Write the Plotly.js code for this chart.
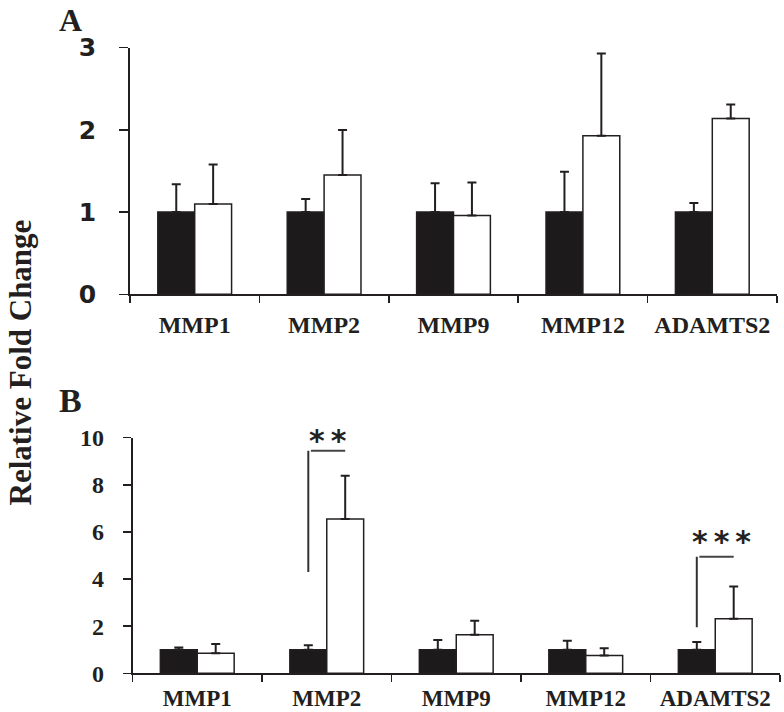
<!DOCTYPE html>
<html><head><meta charset="utf-8">
<script src="https://cdn.plot.ly/plotly-3.0.1.min.js"></script>
<style>html,body{margin:0;padding:0;background:#fff}#chart{width:784px;height:712px}</style>
</head><body><div id="chart"></div>
<script>
const genes = ['MMP1','MMP2','MMP9','MMP12','ADAMTS2'];
const aControl = [1,1,1,1,1];
const aControlErr = [0.34,0.16,0.35,0.49,0.11];
const aTreated = [1.10,1.45,0.96,1.93,2.14];
const aTreatedErr = [0.48,0.55,0.40,1.00,0.17];
const bControl = [1,1,1,1,1];
const bControlErr = [0.10,0.19,0.41,0.38,0.33];
const bTreated = [0.85,6.55,1.64,0.76,2.32];
const bTreatedErr = [0.39,1.84,0.59,0.30,1.36];
const yTicksA = [0,1,2,3];
const yTicksB = [0,2,4,6,8,10];
const sigGenes = ['MMP2','ADAMTS2'];
const sigLabels = ['*\u2009*','*\u2009*\u2009*'];
const sigLow = [4.3,1.95];
const sigHigh = [9.45,4.95];

const W = 784, H = 712;
const bargap = 0.43;
const half = (1 - bargap) / 4;
const ink = '#231f20';
const zeros = genes.map(() => 0);
const sigYShift = [-9, -4];
const sigXShift = [1, 6];

function barTrace(y, err, fill, xa, ya) {
  return {
    type: 'bar', x: genes, y: y, xaxis: xa, yaxis: ya, showlegend: false,
    marker: {color: fill, line: {color: ink, width: 1.5}},
    error_y: {type: 'data', symmetric: false, array: err, arrayminus: zeros,
              color: ink, thickness: 2, width: 4.5},
    hoverinfo: 'skip'
  };
}

const data = [
  barTrace(aControl, aControlErr, '#1c1a1b', 'x', 'y'),
  barTrace(aTreated, aTreatedErr, '#ffffff', 'x', 'y'),
  barTrace(bControl, bControlErr, '#1c1a1b', 'x2', 'y2'),
  barTrace(bTreated, bTreatedErr, '#ffffff', 'x2', 'y2')
];

const serifBold = {family: 'Liberation Serif, Times New Roman, serif', color: ink, weight: 'bold'};

function xAxis(domain, anchor, size, standoff) {
  return {
    domain: domain, anchor: anchor, type: 'category', range: [-0.5, 4.5],
    showline: true, linecolor: ink, linewidth: 1.8, showgrid: false, zeroline: false,
    ticks: 'outside', tickson: 'boundaries', ticklen: 7, tickwidth: 1.5, tickcolor: ink,
    tickfont: Object.assign({}, serifBold, {size: size}), ticklabelstandoff: standoff, fixedrange: true
  };
}

const layout = {
  width: W, height: H,
  margin: {l: 0, r: 0, t: 0, b: 0},
  paper_bgcolor: '#fff', plot_bgcolor: 'rgba(0,0,0,0)',
  barmode: 'group', bargap: bargap, bargroupgap: 0,
  xaxis: xAxis([130/W, 777/W], 'y', 24, 8),
  xaxis2: xAxis([132.5/W, 780/W], 'y2', 23, 3),
  yaxis: {
    domain: [1 - 294.3/H, 1 - 47.7/H], anchor: 'x', range: [0, 3],
    tickvals: yTicksA, ticktext: yTicksA.map(String),
    showline: true, linecolor: ink, linewidth: 1.8, showgrid: false, zeroline: false,
    ticks: 'outside', ticklen: 9, tickwidth: 1.5, tickcolor: ink,
    tickfont: {family: 'DejaVu Sans, sans-serif', size: 25, weight: 'bold', color: ink},
    ticklabelstandoff: 18, fixedrange: true
  },
  yaxis2: {
    domain: [1 - 673.3/H, 1 - 437.7/H], anchor: 'x2', range: [0, 10],
    tickvals: yTicksB, ticktext: yTicksB.map(String),
    showline: true, linecolor: ink, linewidth: 1.8, showgrid: false, zeroline: false,
    ticks: 'outside', ticklen: 8, tickwidth: 1.5, tickcolor: ink,
    tickfont: Object.assign({}, serifBold, {size: 24}),
    ticklabelstandoff: 14, fixedrange: true
  },
  shapes: [],
  annotations: [
    {text: 'A', xref: 'paper', yref: 'paper', x: 70/W, y: 1, showarrow: false,
     xanchor: 'center', yanchor: 'top', font: Object.assign({}, serifBold, {size: 32})},
    {text: 'B', xref: 'paper', yref: 'paper', x: 70/W, y: 1 - 400/H, showarrow: false,
     xanchor: 'center', yanchor: 'middle', font: Object.assign({}, serifBold, {size: 34})},
    {text: 'Relative Fold Change', xref: 'paper', yref: 'paper', x: 0, y: 1 - 363/H,
     showarrow: false, textangle: -90, xanchor: 'left', yanchor: 'middle',
     font: Object.assign({}, serifBold, {size: 31})}
  ]
};

sigGenes.forEach((g, i) => {
  const idx = genes.indexOf(g);
  const xb = idx - half, xw = idx + half;
  layout.shapes.push({type: 'line', xref: 'x2', yref: 'y2', x0: xb, x1: xb,
    y0: sigLow[i], y1: sigHigh[i], line: {color: '#333', width: 2}});
  layout.shapes.push({type: 'line', xref: 'x2', yref: 'y2', x0: xb + 0.02, x1: xw,
    y0: sigHigh[i], y1: sigHigh[i], line: {color: '#444', width: 2}});
  layout.annotations.push({text: sigLabels[i], xref: 'x2', yref: 'y2', x: idx, y: sigHigh[i],
    yshift: sigYShift[i], xshift: sigXShift[i], showarrow: false, xanchor: 'center', yanchor: 'bottom',
    font: {family: 'DejaVu Sans, sans-serif', size: 30, weight: 'bold', color: '#222'}});
});

Plotly.newPlot('chart', data, layout, {displayModeBar: false, staticPlot: true});
</script>
</body></html>
